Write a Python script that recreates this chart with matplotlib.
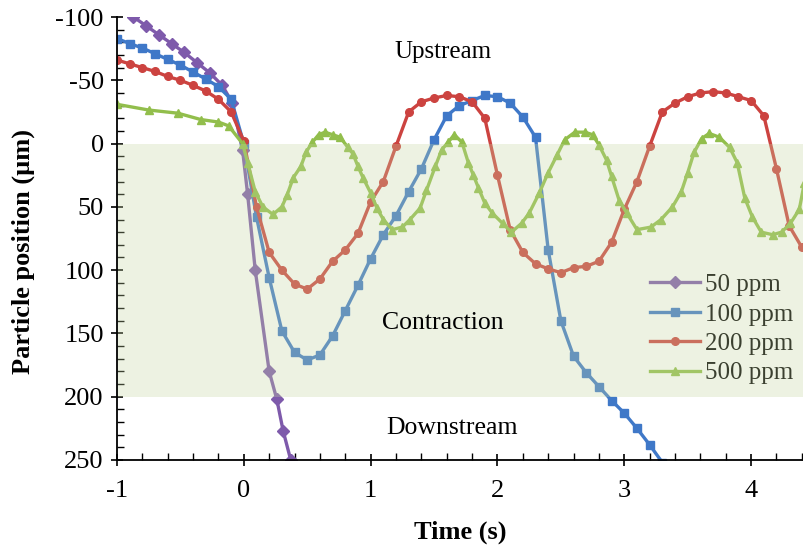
import matplotlib
matplotlib.use("Agg")
import matplotlib.pyplot as plt
from matplotlib.ticker import MultipleLocator

plt.rcParams['font.family'] = ['Liberation Serif', 'DejaVu Serif']
plt.rcParams['axes.unicode_minus'] = False

# ---- data ----
t50 = [-0.87, -0.77, -0.67, -0.57, -0.47, -0.37, -0.27, -0.17, -0.09, -0.01, 0.03, 0.09, 0.20, 0.26, 0.31, 0.37]
y50 = [-100, -93, -86, -79, -72, -64, -56, -46, -32, 5, 40, 100, 180, 202, 227, 250]

t100 = [-1.0, -0.9, -0.8, -0.7, -0.6, -0.5, -0.4, -0.3, -0.2, -0.1, 0.0, 0.1, 0.2, 0.3, 0.4, 0.5,
        0.6, 0.7, 0.8, 0.9, 1.0, 1.1, 1.2, 1.3, 1.4, 1.5, 1.6, 1.7, 1.8, 1.9, 2.0, 2.1, 2.2, 2.3,
        2.4, 2.5, 2.6, 2.7, 2.8, 2.9, 3.0, 3.1, 3.2, 3.3]
y100 = [-83, -79, -75.5, -71, -66.5, -62, -56.5, -51, -45, -35, 0, 58, 106, 148, 165, 171,
        167, 152, 132, 112, 91, 72, 57, 38, 20, -3, -22, -30, -34, -38, -37, -32, -21, -5,
        84, 140, 168, 181, 192, 203, 213, 225, 238, 252]

t200 = [-1.0, -0.9, -0.8, -0.7, -0.6, -0.5, -0.4, -0.3, -0.2, -0.1, 0.0, 0.1, 0.2, 0.3, 0.4, 0.5,
        0.6, 0.7, 0.8, 0.9, 1.0, 1.1, 1.2, 1.3, 1.4, 1.5, 1.6, 1.7, 1.8, 1.9, 2.0, 2.1, 2.2, 2.3,
        2.4, 2.5, 2.6, 2.7, 2.8, 2.9, 3.0, 3.1, 3.2, 3.3, 3.4, 3.5, 3.6, 3.7, 3.8, 3.9, 4.0, 4.1,
        4.2, 4.3, 4.4]
y200 = [-66, -63, -60, -57, -53, -50, -46, -41.5, -35, -25, -2, 50, 86, 100, 111, 115,
        107, 93, 84, 71, 46, 30, 2, -25, -33, -36, -38, -37, -33, -20, 25, 68, 86, 95,
        99, 102, 98, 97, 93, 78, 52, 30, 2, -25, -32, -37, -40, -41, -40, -37, -34, -22,
        20, 65, 82]

t500 = [-1.0, -0.75, -0.52, -0.34, -0.2, -0.12, -0.01, 0.03, 0.09, 0.15, 0.23, 0.3, 0.34, 0.39,
        0.45, 0.49, 0.54, 0.59, 0.64, 0.7, 0.76, 0.82, 0.86, 0.9, 0.94, 1.0, 1.05, 1.1, 1.17,
        1.25, 1.31, 1.39, 1.44, 1.51, 1.56, 1.61, 1.66, 1.72, 1.77, 1.81, 1.85, 1.9, 1.96, 2.04,
        2.11, 2.19, 2.25, 2.33, 2.4, 2.47, 2.53, 2.61, 2.69, 2.75, 2.8, 2.86, 2.9, 2.96, 3.02,
        3.1, 3.21, 3.29, 3.38, 3.45, 3.5, 3.55, 3.61, 3.67, 3.75, 3.83, 3.89, 3.95, 4.01, 4.08,
        4.17, 4.24, 4.31, 4.38, 4.42]
y500 = [-31, -26.5, -24, -19, -17, -14, 0, 15, 38, 50, 56, 50, 41, 27,
        18, 7, -1, -7, -9, -7, -5, 3, 8, 18, 27, 39, 51, 60, 68,
        66, 60, 51, 37, 18, 5, -1, -7, -1, 15, 25, 35, 47, 55, 63,
        70, 63, 55, 39, 23, 9, -3, -9, -9, -7, 1, 13, 26, 45, 55,
        68, 66, 60, 50, 38, 23, 7, -4, -8, -5, 3, 15, 43, 58, 70,
        72, 70, 63, 52, 31]

labels = ['50 ppm', '100 ppm', '200 ppm', '500 ppm']
region_names = ['Upstream', 'Contraction', 'Downstream']
xticks = [-1, 0, 1, 2, 3, 4]
yticks = [-100, -50, 0, 50, 100, 150, 200, 250]

# ---- figure ----
fig = plt.figure(figsize=(8.04, 5.52), dpi=100)
ax = fig.add_axes([117/804, 92/552, 1 - 117/804, (460-17)/552])

series = [
    (t50, y50, '#7E5AAB', 'D', 6.0),
    (t100, y100, '#3F78C8', 's', 5.5),
    (t200, y200, '#CC4340', 'o', 5.5),
    (t500, y500, '#92BE4C', '^', 6.0),
]
for (tt, yy, c, m, ms), lab in zip(series, labels):
    ax.plot(tt, yy, color=c, marker=m, markersize=ms, linewidth=2.4,
            label=lab, clip_on=True, zorder=3)

ax.axhspan(0, 200, facecolor='#C6D7A2', alpha=0.3, edgecolor='none', zorder=7)

ax.set_xlim(-1, 4.417)
ax.set_ylim(250, -100)
ax.set_xticks(xticks)
ax.set_yticks(yticks)
ax.xaxis.set_minor_locator(MultipleLocator(0.2))
ax.yaxis.set_minor_locator(MultipleLocator(10))
ax.tick_params(which='major', direction='inout', length=9, width=1.2, labelsize=19)
ax.tick_params(axis='x', which='major', pad=10)
ax.tick_params(axis='y', which='major', pad=5)
ax.tick_params(which='minor', direction='in', length=5, width=1.0)
for s in ['top', 'right']:
    ax.spines[s].set_visible(False)
for s in ['left', 'bottom']:
    ax.spines[s].set_linewidth(1.3)
    ax.spines[s].set_zorder(8)

ax.set_xlabel('Time (s)', fontsize=19, fontweight='bold', labelpad=13)
ax.set_ylabel('Particle position (\u00b5m)', fontsize=19, fontweight='bold')
ax.yaxis.set_label_coords(-0.12, 0.47)

ax.text(1.57, -72, region_names[0], fontsize=18, ha='center', va='center', zorder=10)
ax.text(1.57, 142, region_names[1], fontsize=18.5, ha='center', va='center', zorder=10)
ax.text(1.64, 225, region_names[2], fontsize=18.5, ha='center', va='center', zorder=10)

leg = ax.legend(loc='center left', bbox_to_anchor=(650/804, 1 - 329/552),
                bbox_transform=fig.transFigure, frameon=False, fontsize=18,
                borderpad=0, borderaxespad=0, labelspacing=0.28,
                handlelength=2.0, handletextpad=0.2)
leg.set_zorder(6)

fig.savefig('out.png', dpi=100)
